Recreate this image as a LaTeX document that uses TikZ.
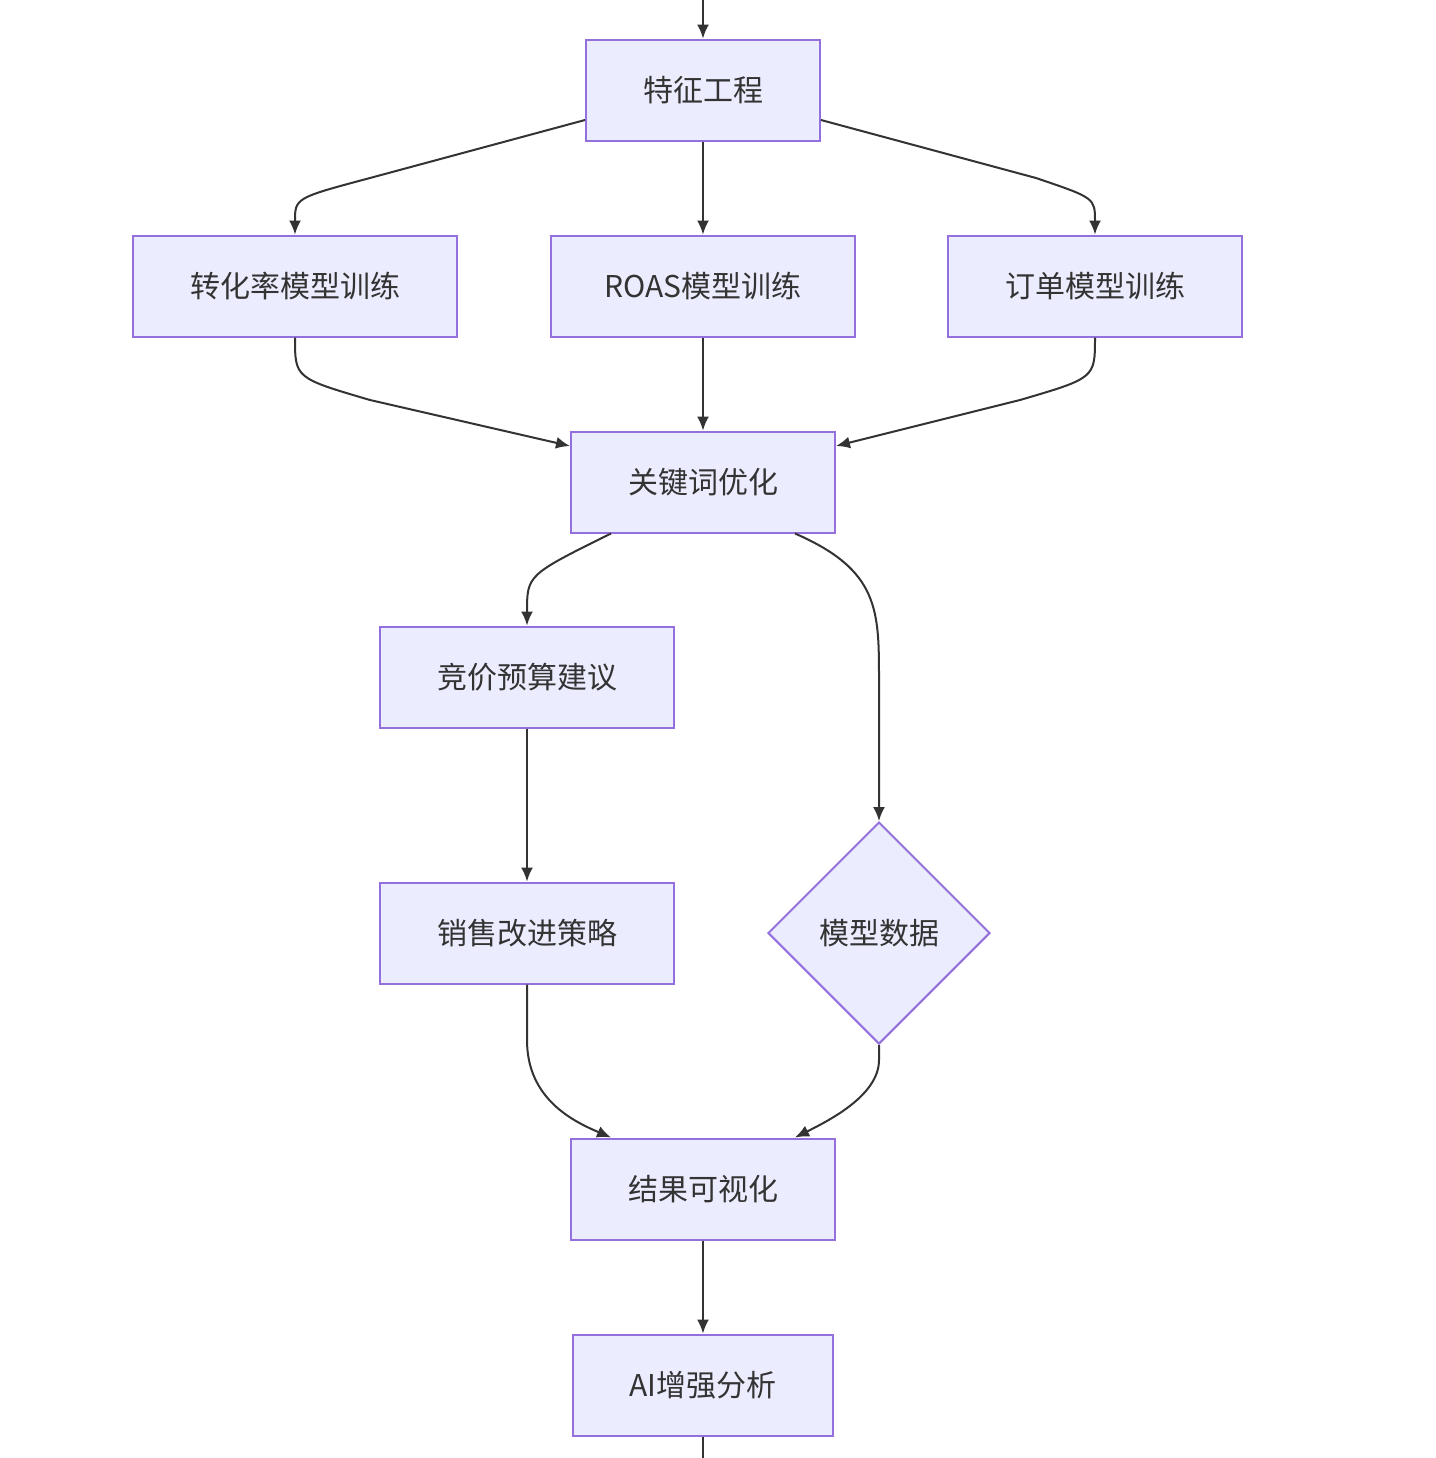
\documentclass[tikz,border=0pt]{standalone}
\usepackage{fontspec}
\setmainfont{Noto Sans CJK SC}
\usetikzlibrary{shapes.geometric,arrows.meta}
\definecolor{nfill}{HTML}{ECECFF}
\definecolor{nline}{HTML}{9370DB}
\definecolor{eline}{HTML}{333333}
\begin{document}
\begin{tikzpicture}[x=0.5pt,y=-0.5pt,
  box/.style={draw=nline,fill=nfill,line width=1pt,minimum height=50.5pt,inner sep=0pt,font=\fontsize{15}{18}\selectfont,text=eline},
  dia/.style={draw=nline,fill=nfill,line width=1pt,diamond,minimum width=111pt,minimum height=111pt,inner sep=0pt,font=\fontsize{15}{18}\selectfont,text=eline},
  edge/.style={draw=eline,line width=1pt,-{Latex[length=7pt,width=6pt]}}]
\useasboundingbox[fill=white] (0,0) rectangle (1436,1458);
\node[box,minimum width=117pt] (fe) at (703,90) {特征工程};
\node[box,minimum width=162pt] (tr) at (295,286) {转化率模型训练};
\node[box,minimum width=152pt] (ro) at (703,286) {ROAS模型训练};
\node[box,minimum width=147pt] (od) at (1095,286) {订单模型训练};
\node[box,minimum width=132pt] (kw) at (703,482) {关键词优化};
\node[box,minimum width=147pt] (bid) at (527,677) {竞价预算建议};
\node[box,minimum width=147pt] (sal) at (527,933) {销售改进策略};
\node[dia] (md) at (879,933) {模型数据};
\node[box,minimum width=132pt] (res) at (703,1189) {结果可视化};
\node[box,minimum width=130pt] (ai) at (703,1385) {AI增强分析};
\coordinate (top) at (703,0);
\coordinate (bot) at (703,1458);
\draw[edge] (top) -- (fe.north);
\draw[edge] ([yshift=-15pt]fe.west) -- (370,178) .. controls (295,198) .. (tr.north);
\draw[edge] (fe.south) -- (ro.north);
\draw[edge] ([yshift=-15pt]fe.east) -- (1036,178) .. controls (1095,198) .. (od.north);
\draw[edge] (tr.south) .. controls (295,378) .. (370,400) -- ([yshift=18pt]kw.west);
\draw[edge] (ro.south) -- (kw.north);
\draw[edge] (od.south) .. controls (1095,378) .. (1020,400) -- ([yshift=18pt]kw.east);
\draw[edge] ([xshift=-46pt]kw.south) .. controls (527,575) .. (bid.north);
\draw[edge] ([xshift=46pt]kw.south) .. controls (879,570) and (879,610) .. (879,680) -- (md.north);
\draw[edge] (bid.south) -- (sal.north);
\draw[edge] (sal.south) -- (527,1040) .. controls (527,1100) and (575,1122) .. ([xshift=-46pt]res.north);
\draw[edge] (md.south) -- (879,1060) .. controls (879,1095) and (830,1120) .. ([xshift=46pt]res.north);
\draw[edge] (res.south) -- (ai.north);
\draw[draw=eline,line width=1pt] (ai.south) -- (bot);
\end{tikzpicture}
\end{document}
